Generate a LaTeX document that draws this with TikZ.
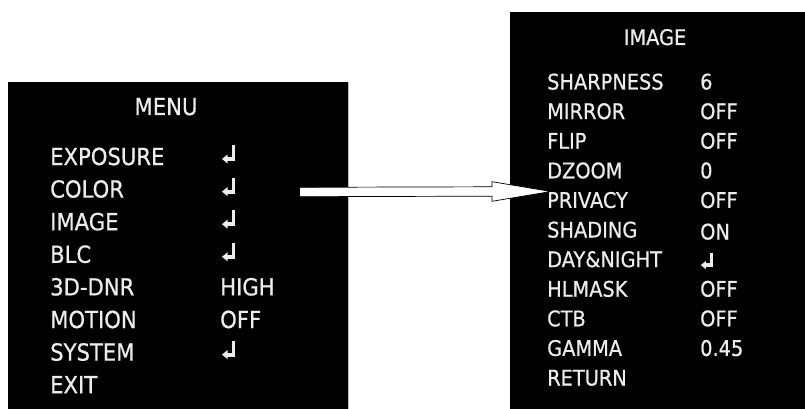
\documentclass[tikz,border=0pt]{standalone}
\usepackage{fontspec}
\setmainfont{DejaVu Sans}[FakeStretch=0.9, FakeBold=0.7]
\usetikzlibrary{calc}
\definecolor{osd}{RGB}{236,236,236}

\begin{document}
\begin{tikzpicture}[x=1pt, y=-1pt,
  panel/.style={fill=black, inner sep=0pt, anchor=north west},
  item/.style={text=osd, inner sep=0pt, anchor=base west, font=\fontsize{23.5}{28}\selectfont},
  subitem/.style={item, font=\fontsize{21.5}{26}\selectfont},
  title/.style={item, anchor=base},
  subtitle/.style={subitem, anchor=base},
  enter/.pic={
    \fill[osd] (12,-20) rectangle (15,-4);
    \fill[osd] (6,-8) rectangle (15,-4);
    \fill[osd] (2,-6) -- (7.5,-10.5) -- (7.5,-1.5) -- cycle;
  }]
 \useasboundingbox (0,0) rectangle (805,409);

 \node[panel, minimum width=340pt, minimum height=327pt] (menu) at (8,82) {};
 \node[panel, minimum width=295pt, minimum height=397pt] (image) at (510,12) {};
 \draw[gray!55, line width=1pt] (menu.north east) -- (menu.south east);

 \node[title] (menuTitle) at (166,115) {MENU};
 \node[item] (exposure) at (50,165) {EXPOSURE};
 \node[item] (color) at (50,197.6) {COLOR};
 \node[item] (imageItem) at (50,230.2) {IMAGE};
 \node[item] (blc) at (50,262.8) {BLC};
 \node[item] (dnr) at (50,295.4) {3D-DNR};
 \node[item] (motion) at (50,328) {MOTION};
 \node[item] (system) at (50,360.6) {SYSTEM};
 \node[item] (exit) at (50,393.2) {EXIT};

 \pic at (220,165) {enter};
 \pic at (220,197.6) {enter};
 \pic at (220,230.2) {enter};
 \pic at (220,262.8) {enter};
 \node[item] (dnrVal) at (220,295.4) {HIGH};
 \node[item] (motionVal) at (220,328) {OFF};
 \pic at (220,360.6) {enter};

 \node[subtitle] (imageTitle) at (655,45) {IMAGE};
 \node[subitem] (sharpness) at (547,89.5) {SHARPNESS};
 \node[subitem] (mirror) at (547,119.1) {MIRROR};
 \node[subitem] (flip) at (547,148.7) {FLIP};
 \node[subitem] (dzoom) at (547,178.3) {DZOOM};
 \node[subitem] (privacy) at (547,207.9) {PRIVACY};
 \node[subitem] (shading) at (547,237.5) {SHADING};
 \node[subitem] (daynight) at (547,267.1) {DAY\&NIGHT};
 \node[subitem] (hlmask) at (547,296.7) {HLMASK};
 \node[subitem] (ctb) at (547,326.3) {CTB};
 \node[subitem] (gamma) at (547,355.9) {GAMMA};
 \node[subitem] (return) at (547,385.5) {RETURN};

 \node[subitem] (sharpnessVal) at (700,89.5) {6};
 \node[subitem] (mirrorVal) at (700,119.1) {OFF};
 \node[subitem] (flipVal) at (700,148.7) {OFF};
 \node[subitem] (dzoomVal) at (700,178.3) {0};
 \node[subitem] (privacyVal) at (700,207.9) {OFF};
 \node[subitem] (shadingVal) at (700,239.5) {ON};
 \pic[scale=0.9] at (699,270.5) {enter};
 \node[subitem] (hlmaskVal) at (700,296.7) {OFF};
 \node[subitem] (ctbVal) at (700,326.3) {OFF};
 \node[subitem] (gammaVal) at (700,355.9) {0.45};

 \coordinate (arrTail) at ($(menu.north east)+(-49,110)$);
 \coordinate (arrTip) at ($(privacy.base west)+(4,-16.4)$);
 \draw[fill=white, line width=0.7pt]
   ($(arrTail)+(0,-4.7)$) -- ($(arrTip)+(-59,-4.7)$) -- ($(arrTip)+(-59,-9.8)$) -- (arrTip)
   -- ($(arrTip)+(-59,9.8)$) -- ($(arrTip)+(-59,4.7)$) -- ($(arrTail)+(0,4.7)$) -- cycle;
\end{tikzpicture}
\end{document}
